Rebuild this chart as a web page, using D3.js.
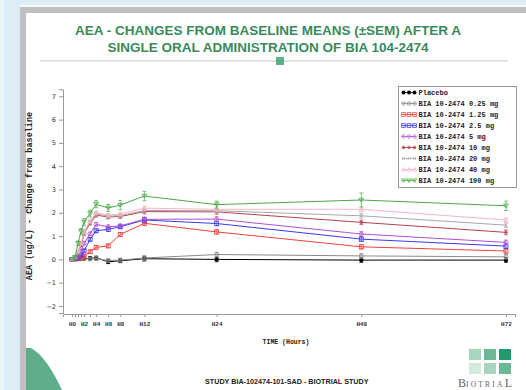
<!DOCTYPE html>
<html>
<head>
<meta charset="utf-8">
<script src="https://cdn.jsdelivr.net/npm/d3@7"></script>
<style>
  html, body { margin: 0; padding: 0; background: #dcedf5; }
  svg { display: block; }
</style>
</head>
<body>
<svg id="chart" width="526" height="390"></svg>
<script>
// Sampling times (hours after dosing)
const times = [0, 0.5, 1, 1.5, 2, 3, 4, 6, 8, 12, 24, 48, 72];

// Mean change from baseline (ug/L) per treatment group
const placebo = [0, 0.02, 0.03, 0.04, 0.04, 0.05, 0.06, -0.1, -0.06, 0.03, 0.0, -0.03, -0.03];
const dose025 = [0, 0.01, 0.02, 0.02, 0.03, 0.02, 0.04, -0.05, -0.03, 0.06, 0.21, 0.15, 0.11];
const dose125 = [0, 0.02, 0.05, 0.08, 0.14, 0.33, 0.52, 0.58, 1.07, 1.55, 1.18, 0.54, 0.36];
const dose25  = [0, 0.03, 0.1, 0.2, 0.37, 0.86, 1.23, 1.29, 1.4, 1.69, 1.54, 0.87, 0.57];
const dose5   = [0, 0.05, 0.15, 0.35, 0.69, 1.1, 1.5, 1.4, 1.44, 1.72, 1.73, 1.09, 0.73];
const dose10  = [0, 0.08, 0.3, 0.6, 1.1, 1.55, 1.9, 1.82, 1.84, 2.05, 2.04, 1.59, 1.16];
const dose20  = [0, 0.08, 0.3, 0.65, 1.15, 1.6, 1.95, 1.86, 1.88, 2.1, 2.09, 1.87, 1.47];
const dose40  = [0, 0.1, 0.35, 0.7, 1.2, 1.65, 2.0, 1.9, 1.95, 2.2, 2.15, 2.15, 1.69];
const dose100 = [0, 0.1, 0.69, 1.2, 1.61, 1.97, 2.37, 2.21, 2.33, 2.72, 2.35, 2.55, 2.3];

// Standard errors of the mean
const semSmall = [0, 0.02, 0.04, 0.05, 0.06, 0.07, 0.08, 0.08, 0.08, 0.1, 0.1, 0.1, 0.1];
const sem100   = [0, 0.05, 0.1, 0.12, 0.15, 0.15, 0.15, 0.15, 0.2, 0.2, 0.15, 0.3, 0.2];

const groupLabels = ["Placebo", "BIA 10-2474 0.25 mg", "BIA 10-2474 1.25 mg", "BIA 10-2474 2.5 mg",
  "BIA 10-2474 5 mg", "BIA 10-2474 10 mg", "BIA 10-2474 20 mg", "BIA 10-2474 40 mg", "BIA 10-2474 100 mg"];
const groupValues = [placebo, dose025, dose125, dose25, dose5, dose10, dose20, dose40, dose100];
const groupSem = [semSmall, semSmall, semSmall, semSmall, semSmall, semSmall, semSmall, semSmall, sem100];

const xTickValues = [0, 0.5, 1, 1.5, 2, 3, 4, 6, 8, 12, 24, 48, 72];
const xTickLabels = {0: "H0", 2: "H2", 4: "H4", 6: "H6", 8: "H8", 12: "H12", 24: "H24", 48: "H48", 72: "H72"};
const yTickValues = [-2, -1, 0, 1, 2, 3, 4, 5, 6, 7];

// Drawing styles per group
const styles = [
  {color: "#000000", shape: "dot"},
  {color: "#8a8a8a", shape: "circle"},
  {color: "#f04040", shape: "square"},
  {color: "#3a3af0", shape: "square"},
  {color: "#b050d0", shape: "diamond"},
  {color: "#b84050", shape: "star"},
  {color: "#a8a8a8", shape: "x"},
  {color: "#f4b8c4", shape: "triangle"},
  {color: "#4aa84a", shape: "tridown"}
];

const svg = d3.select("#chart");

// ---- slide frame ----
svg.append("rect").attr("x", 0).attr("y", 0).attr("width", 526).attr("height", 390).attr("fill", "#dcedf5");
svg.append("rect").attr("x", 0).attr("y", 0).attr("width", 4).attr("height", 390).attr("fill", "#eaf5fa");
svg.append("rect").attr("x", 20).attr("y", 5).attr("width", 506).attr("height", 2).attr("fill", "#f4f9fb");
svg.append("rect").attr("x", 20).attr("y", 7).attr("width", 506).attr("height", 383).attr("fill", "#c0c0c0");
svg.append("rect").attr("x", 26).attr("y", 13).attr("width", 500).attr("height", 377).attr("fill", "#ffffff");

// bottom-left decoration
svg.append("path")
  .attr("d", "M26,348 L31,348 Q46,356 62,390 L26,390 Z")
  .attr("fill", "#5fae8a");

// ---- title ----
const title = svg.append("text")
  .attr("x", 268).attr("text-anchor", "middle")
  .attr("font-family", "'Liberation Sans', Arial, sans-serif")
  .attr("font-weight", "bold").attr("font-size", 13.5)
  .attr("fill", "#3a8a5b");
title.append("tspan").attr("x", 268).attr("y", 35).text("AEA - CHANGES FROM BASELINE MEANS (±SEM) AFTER A");
title.append("tspan").attr("x", 268).attr("y", 52).text("SINGLE ORAL ADMINISTRATION OF BIA 104-2474");

svg.append("line").attr("x1", 40).attr("x2", 508).attr("y1", 61).attr("y2", 61)
  .attr("stroke", "#c8c8c8").attr("stroke-width", 1);
svg.append("rect").attr("x", 276).attr("y", 57).attr("width", 8).attr("height", 8).attr("fill", "#5fae8a");

// ---- scales ----
const x = d3.scaleLinear().domain([-1.5, 73.5]).range([63, 515]);
const y = d3.scaleLinear().domain([-2.3, 7.3]).range([313, 89.3]);

const mono = "'Liberation Mono', 'Courier New', monospace";

// y axis
const yAxis = svg.append("g").attr("transform", "translate(63,0)")
  .call(d3.axisLeft(y).tickValues(yTickValues).tickSize(4).tickPadding(3).tickFormat(d3.format("d")));
yAxis.selectAll("text").attr("font-family", "'DejaVu Sans', sans-serif").attr("font-size", 6.5).attr("fill", "#333");
yAxis.selectAll("line, path").attr("stroke", "#999");

// x axis
const xAxis = svg.append("g").attr("transform", "translate(0,314)")
  .call(d3.axisBottom(x).tickValues(xTickValues).tickSize(3).tickPadding(5)
    .tickFormat(d => xTickLabels[d] || ""));
xAxis.selectAll("text").attr("font-family", mono).attr("font-weight", "bold").attr("font-size", 6).attr("fill", "#333");
xAxis.selectAll("line, path").attr("stroke", "#999");

// axis titles
svg.append("text")
  .attr("transform", "translate(32,196) rotate(-90)")
  .attr("text-anchor", "middle")
  .attr("font-family", mono).attr("font-weight", "bold").attr("font-size", 8.5)
  .attr("fill", "#222")
  .text("AEA (ug/L) - Change from baseline");

svg.append("text")
  .attr("x", 286).attr("y", 344).attr("text-anchor", "middle")
  .attr("font-family", mono).attr("font-weight", "bold").attr("font-size", 6.5)
  .attr("fill", "#222")
  .text("TIME (Hours)");

// ---- marker helper ----
function drawMarker(g, cx, cy, style, s) {
  const c = style.color;
  switch (style.shape) {
    case "dot":
      g.append("circle").attr("cx", cx).attr("cy", cy).attr("r", s * 0.55).attr("fill", c);
      break;
    case "circle":
      g.append("circle").attr("cx", cx).attr("cy", cy).attr("r", s * 0.5).attr("fill", "none").attr("stroke", c).attr("stroke-width", 0.8);
      break;
    case "square":
      g.append("rect").attr("x", cx - s / 2).attr("y", cy - s / 2).attr("width", s).attr("height", s)
        .attr("fill", "none").attr("stroke", c).attr("stroke-width", 0.8);
      break;
    case "diamond":
      g.append("path").attr("d", `M${cx},${cy - s * 0.6}L${cx + s * 0.6},${cy}L${cx},${cy + s * 0.6}L${cx - s * 0.6},${cy}Z`)
        .attr("fill", "none").attr("stroke", c).attr("stroke-width", 0.8);
      break;
    case "star":
      g.append("path").attr("d", `M${cx - s / 2},${cy}H${cx + s / 2}M${cx},${cy - s / 2}V${cy + s / 2}M${cx - s * 0.35},${cy - s * 0.35}L${cx + s * 0.35},${cy + s * 0.35}M${cx - s * 0.35},${cy + s * 0.35}L${cx + s * 0.35},${cy - s * 0.35}`)
        .attr("stroke", c).attr("stroke-width", 0.8);
      break;
    case "x":
      g.append("path").attr("d", `M${cx - s * 0.4},${cy - s * 0.4}L${cx + s * 0.4},${cy + s * 0.4}M${cx - s * 0.4},${cy + s * 0.4}L${cx + s * 0.4},${cy - s * 0.4}`)
        .attr("stroke", c).attr("stroke-width", 0.8);
      break;
    case "triangle":
      g.append("path").attr("d", `M${cx},${cy - s * 0.55}L${cx + s * 0.55},${cy + s * 0.45}L${cx - s * 0.55},${cy + s * 0.45}Z`)
        .attr("fill", "none").attr("stroke", c).attr("stroke-width", 0.8);
      break;
    case "tridown":
      g.append("path").attr("d", `M${cx},${cy + s * 0.55}L${cx + s * 0.6},${cy - s * 0.45}L${cx - s * 0.6},${cy - s * 0.45}Z`)
        .attr("fill", "none").attr("stroke", c).attr("stroke-width", 0.8);
      break;
  }
}

// ---- series ----
const plot = svg.append("g");
const line = d3.line().x(d => x(d.t)).y(d => y(d.v));

groupValues.forEach((vals, i) => {
  const st = styles[i];
  const pts = times.map((t, j) => ({t, v: vals[j], e: groupSem[i][j]}));
  const g = plot.append("g");
  // error bars
  pts.forEach(p => {
    if (p.e <= 0) return;
    const px = x(p.t);
    g.append("path")
      .attr("d", `M${px},${y(p.v - p.e)}V${y(p.v + p.e)}M${px - 2},${y(p.v - p.e)}H${px + 2}M${px - 2},${y(p.v + p.e)}H${px + 2}`)
      .attr("stroke", st.color).attr("stroke-width", 0.7).attr("fill", "none");
  });
  g.append("path").datum(pts).attr("d", line)
    .attr("fill", "none").attr("stroke", st.color).attr("stroke-width", 1);
  pts.forEach(p => drawMarker(g, x(p.t), y(p.v), st, 4));
});

// ---- legend ----
const lg = svg.append("g");
lg.append("rect").attr("x", 398.5).attr("y", 86.5).attr("width", 118).attr("height", 101)
  .attr("fill", "#fff").attr("stroke", "#999").attr("stroke-width", 1);
groupLabels.forEach((label, i) => {
  const ry = 92.5 + i * 11;
  const st = styles[i];
  lg.append("line").attr("x1", 402).attr("x2", 416).attr("y1", ry).attr("y2", ry)
    .attr("stroke", st.color).attr("stroke-width", 0.8);
  [403.5, 409, 414.5].forEach(mx => drawMarker(lg, mx, ry, st, 3.6));
  lg.append("text").attr("x", 418.5).attr("y", ry + 2.4)
    .attr("font-family", mono).attr("font-weight", "bold").attr("font-size", 7)
    .attr("fill", "#222").text(label);
});

// ---- footer ----
svg.append("text").attr("x", 205).attr("y", 384)
  .attr("font-family", "'Liberation Sans', Arial, sans-serif").attr("font-weight", "bold").attr("font-size", 7.2)
  .attr("fill", "#222").text("STUDY BIA-102474-101-SAD  - BIOTRIAL STUDY");

// logo squares
const logoColors = [["#a8d5bf", "#6cb894", "#1f9a6c"], ["#d3eadf", "#a8d5bf", "#6cb894"]];
logoColors.forEach((row, r) => row.forEach((c, k) => {
  svg.append("rect").attr("x", 469 + k * 15).attr("y", 349 + r * 14).attr("width", 12).attr("height", 11).attr("fill", c);
}));
const logo = svg.append("text").attr("x", 458).attr("y", 387)
  .attr("font-family", "'Liberation Serif', 'Times New Roman', serif").attr("fill", "#666");
logo.append("tspan").attr("font-size", 12).text("B");
logo.append("tspan").attr("font-size", 7.5).attr("letter-spacing", 2.2).text("IOTRIA");
logo.append("tspan").attr("font-size", 12).text("L");
</script>
</body>
</html>
